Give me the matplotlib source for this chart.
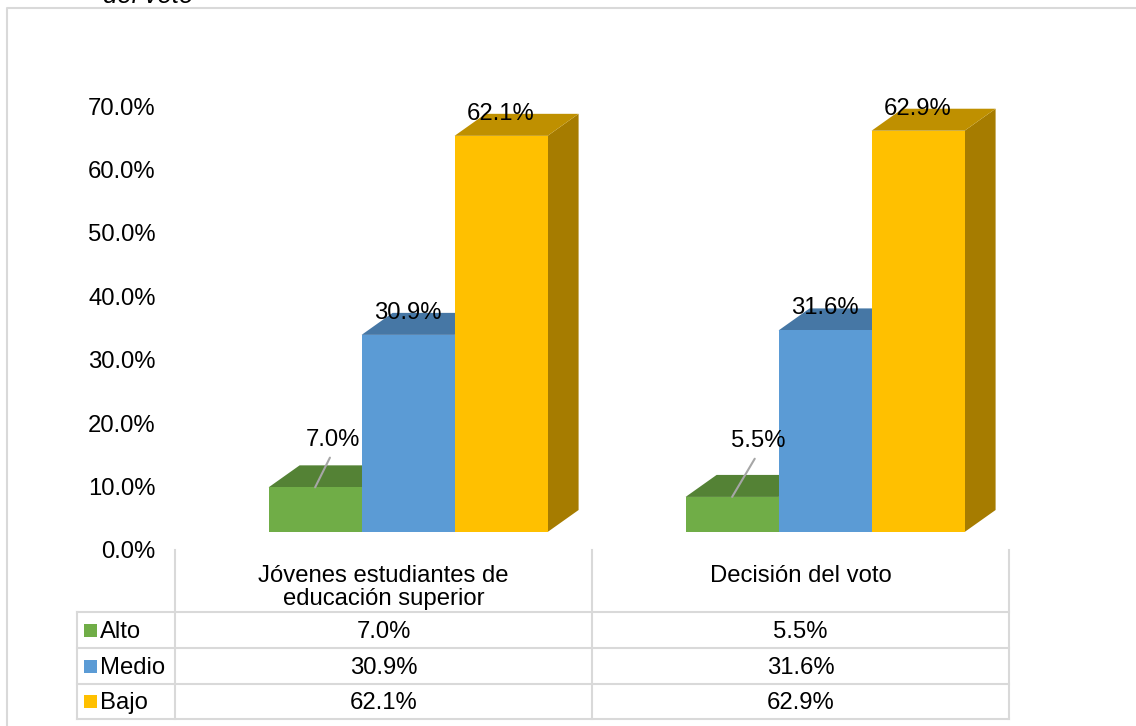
import matplotlib
matplotlib.use("Agg")
import matplotlib.pyplot as plt
from matplotlib.patches import Polygon
from matplotlib.ticker import FuncFormatter
import matplotlib.transforms as mtransforms

# ---------------- data ----------------
categories = ["Jóvenes estudiantes de\neducación superior", "Decisión del voto"]
series_names = ["Alto", "Medio", "Bajo"]
alto = [0.070, 0.055]
medio = [0.309, 0.316]
bajo = [0.621, 0.629]
y_ticks = [0.0, 0.1, 0.2, 0.3, 0.4, 0.5, 0.6, 0.7]
title_tail = "del voto"

# ---------------- styles ----------------
W, H = 1136, 726
FS = 17.2
front_cols = ["#70AD47", "#5B9BD5", "#FFC000"]
top_cols = ["#548235", "#4677A5", "#BF9000"]
side_cols = ["#4E7A31", "#3F6C95", "#A67C00"]
grid_col = "#D9D9D9"
plt.rcParams["font.family"] = ["Liberation Sans", "DejaVu Sans"]

fig = plt.figure(figsize=(W / 100, H / 100), dpi=100)


def px_rect(x0, y0, x1, y1):
    return [x0 / W, 1 - y1 / H, (x1 - x0) / W, (y1 - y0) / H]


# overlay axes in pixel coordinates (frame + table)
ax_o = fig.add_axes([0, 0, 1, 1])
ax_o.set_xlim(0, W)
ax_o.set_ylim(H, 0)
ax_o.axis("off")
ax_o.patch.set_visible(False)

# tick-label axis
plot_rect = px_rect(175, 80, 1009, 550)
ax_t = fig.add_axes(plot_rect)
ax_t.set_ylim(0, 0.741)
ax_t.set_yticks(y_ticks)
ax_t.yaxis.set_major_formatter(FuncFormatter(lambda v, p: f"{v * 100:.1f}%"))
ax_t.tick_params(axis="y", length=0, pad=14, labelsize=FS)
ax_t.set_xticks([])
for s in ax_t.spines.values():
    s.set_visible(False)
ax_t.patch.set_visible(False)

# bar axis
ax = fig.add_axes(plot_rect)
ax.set_xlim(-0.5, 1.5)
ax.set_ylim(-0.0282, 0.7085)
ax.axis("off")
ax.patch.set_visible(False)

width = 0.223
center_shift = 0.059
dx = 31 / 417.0
dy = 22 / 638.0

all_series = [alto, medio, bajo]
for j, vals in enumerate(all_series):
    xs = [i + center_shift + (j - 1) * width for i in range(len(categories))]
    bars = ax.bar(xs, vals, width=width, color=front_cols[j], zorder=3 * j + 3, linewidth=0)
    for b, v in zip(bars, vals):
        x0 = b.get_x()
        x1 = x0 + b.get_width()
        h = b.get_height()
        top = Polygon([(x0, h), (x1, h), (x1 + dx, h + dy), (x0 + dx, h + dy)],
                      closed=True, facecolor=top_cols[j], edgecolor="none", zorder=3 * j + 2)
        side = Polygon([(x1, 0), (x1 + dx, dy), (x1 + dx, h + dy), (x1, h)],
                       closed=True, facecolor=side_cols[j], edgecolor="none", zorder=3 * j + 1)
        ax.add_patch(top)
        ax.add_patch(side)

# data labels
label_offsets_green = [(13, 34), (19, 40)]  # points
for i, v in enumerate(alto):
    x = i + center_shift - width
    ax.annotate(f"{v * 100:.1f}%", xy=(x, v), xytext=label_offsets_green[i],
                textcoords="offset points", ha="center", va="center", fontsize=FS,
                zorder=20,
                arrowprops=dict(arrowstyle="-", color="#A6A6A6", lw=1.5,
                                shrinkA=3, shrinkB=0, relpos=(0.5, 0.0)))
for j, vals in [(1, medio), (2, bajo)]:
    for i, v in enumerate(vals):
        x = i + center_shift + (j - 1) * width
        ax.text(x, v + dy, f"{v * 100:.1f}%", ha="center", va="center", fontsize=FS, zorder=20)

# ---------------- frame ----------------
ax_o.plot([7, 7, W + 5], [H + 5, 8, 8], color=grid_col, lw=1.5, solid_capstyle="butt",
          clip_on=False)
fig.text(103 / W, 1 - 3 / H, title_tail, fontsize=18.5, style="italic",
         ha="left", va="baseline")

# ---------------- data table ----------------
tb = mtransforms.blended_transform_factory(ax.transData, ax_o.transData)
row_lines = [612, 648, 684, 719]
lw = 1.5
for xv in [175, 592, 1009]:
    ax_o.plot([xv, xv], [550, 719], color=grid_col, lw=lw)
ax_o.plot([77, 77], [612, 719], color=grid_col, lw=lw)
for yv in row_lines:
    ax_o.plot([77, 1009], [yv, yv], color=grid_col, lw=lw)

for i, cat in enumerate(categories):
    for k, line in enumerate(cat.split("\n")):
        ax_o.text(i, 582 + 23.5 * k, line, transform=tb, ha="center", va="baseline", fontsize=FS)

for j, (name, vals) in enumerate(zip(series_names, all_series)):
    y_base = row_lines[j + 1] - 10
    cy = (row_lines[j] + row_lines[j + 1]) / 2
    ax_o.add_patch(plt.Rectangle((84, cy - 6.5), 13, 13, facecolor=front_cols[j], edgecolor="none"))
    ax_o.text(100, y_base, name, ha="left", va="baseline", fontsize=FS)
    for i, v in enumerate(vals):
        ax_o.text(i, y_base, f"{v * 100:.1f}%", transform=tb, ha="center", va="baseline", fontsize=FS)

fig.savefig("out.png", dpi=100)
